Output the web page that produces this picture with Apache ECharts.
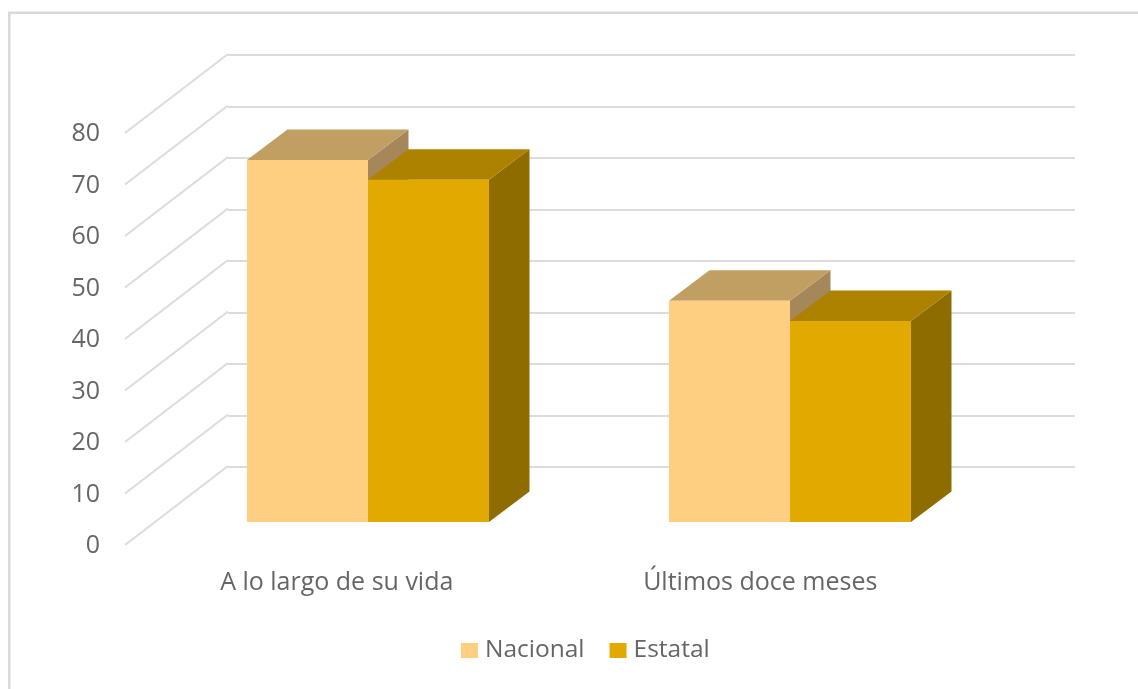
<!DOCTYPE html>
<html><head><meta charset="utf-8">
<style>html,body{margin:0;padding:0;background:#fff}#c{width:1138px;height:689px;filter:blur(0.45px)}</style>
<script src="https://cdn.jsdelivr.net/npm/echarts@6/dist/echarts.min.js"></script>
</head><body><div id="c"></div>
<script>
const categories = ['A lo largo de su vida', 'Últimos doce meses'];
const nacional = [70.2, 42.9];
const estatal = [66.4, 39.0];
const ticks = [0, 10, 20, 30, 40, 50, 60, 70, 80];

const FONT = '"Open Sans"';
const TEXT = '#666666';
const GRIDC = '#dcdcdc';
const DEPTH = [40.5, -30.5];
const FLOOR = [103, -79];
const BAR_FRAC = 0.2867;

function barRenderer(side, colors) {
  return function (params, api) {
    const x = api.value(0), v = api.value(1);
    const bw = api.size([1, 0])[0] * BAR_FRAC;
    const c = api.coord([x, v]), b = api.coord([x, 0]);
    const x0 = side < 0 ? c[0] - bw : c[0], x1 = x0 + bw;
    const t = c[1], y0 = b[1], dx = DEPTH[0], dy = DEPTH[1];
    const poly = (pts, fill) => ({type: 'polygon', shape: {points: pts}, style: {fill: fill}});
    return {type: 'group', children: [
      poly([[x1, t], [x1 + dx, t + dy], [x1 + dx, y0 + dy], [x1, y0]], colors.side),
      poly([[x0, t], [x1, t], [x1 + dx, t + dy], [x0 + dx, t + dy]], colors.top),
      poly([[x0, t], [x1, t], [x1, y0], [x0, y0]], colors.front)
    ]};
  };
}
function diagRenderer(params, api) {
  const p = api.coord([0, api.value(0)]);
  const x = params.coordSys.x;
  return {type: 'line', shape: {x1: x, y1: p[1], x2: x + FLOOR[0], y2: p[1] + FLOOR[1]},
    style: {stroke: GRIDC, lineWidth: 2, fill: null}};
}
const valAxis = (idx, extra) => Object.assign({type: 'value', gridIndex: idx, min: 0, max: 80, interval: 10,
  axisLine: {show: false}, axisTick: {show: false}, axisLabel: {show: false}, splitLine: {show: false}}, extra);
const catAxis = (idx, extra) => Object.assign({type: 'category', gridIndex: idx, data: categories,
  axisLine: {show: false}, axisTick: {show: false}, axisLabel: {show: false}, splitLine: {show: false}}, extra);

const chart = echarts.init(document.getElementById('c'), null, {renderer: 'canvas'});
chart.setOption({
  animation: false,
  backgroundColor: '#fff',
  graphic: [{type: 'rect', left: 6.75, top: 10.25, shape: {width: 1200, height: 760},
    style: {fill: null, stroke: '#d9d9d9', lineWidth: 2.5}, silent: true, z: -1}],
  grid: [
    {left: 228, top: 55, width: 847, height: 412},
    {left: 125, top: 133, width: 847, height: 412},
    {left: 157, top: 109.5, width: 844, height: 412.5},
    {left: 125, top: 134, width: 847, height: 412}
  ],
  xAxis: [
    catAxis(0),
    catAxis(1, {axisLabel: {show: true, margin: 25, color: TEXT, fontFamily: FONT, fontSize: 25}}),
    catAxis(2),
    catAxis(3)
  ],
  yAxis: [
    valAxis(0, {splitLine: {show: true, lineStyle: {color: GRIDC, width: 2}}}),
    valAxis(1),
    valAxis(2),
    valAxis(3, {axisLabel: {show: true, margin: 25, color: TEXT, fontFamily: FONT, fontSize: 25}})
  ],
  legend: {
    left: 461, top: 638, padding: 0, itemWidth: 17, itemHeight: 15, itemGap: 25,
    data: ['Nacional', 'Estatal'],
    textStyle: {color: TEXT, fontFamily: FONT, fontSize: 24.5, padding: [0, 0, 0, 2]},
    icon: 'rect'
  },
  series: [
    {type: 'custom', name: 'diag', xAxisIndex: 1, yAxisIndex: 1, data: ticks.map(t => [t]),
      encode: {y: 0}, renderItem: diagRenderer, silent: true, z: 1},
    {type: 'custom', name: 'Nacional', xAxisIndex: 2, yAxisIndex: 2,
      data: nacional.map((v, i) => [i, v]), encode: {x: 0, y: 1}, z: 2,
      itemStyle: {color: '#ffcf81'},
      renderItem: barRenderer(-1, {front: '#ffcf81', top: '#c19f63', side: '#a5875a'})},
    {type: 'custom', name: 'Estatal', xAxisIndex: 2, yAxisIndex: 2,
      data: estatal.map((v, i) => [i, v]), encode: {x: 0, y: 1}, z: 3,
      itemStyle: {color: '#e2aa00'},
      renderItem: barRenderer(1, {front: '#e2aa00', top: '#ad8200', side: '#8f6c00'})}
  ]
});
</script></body></html>
